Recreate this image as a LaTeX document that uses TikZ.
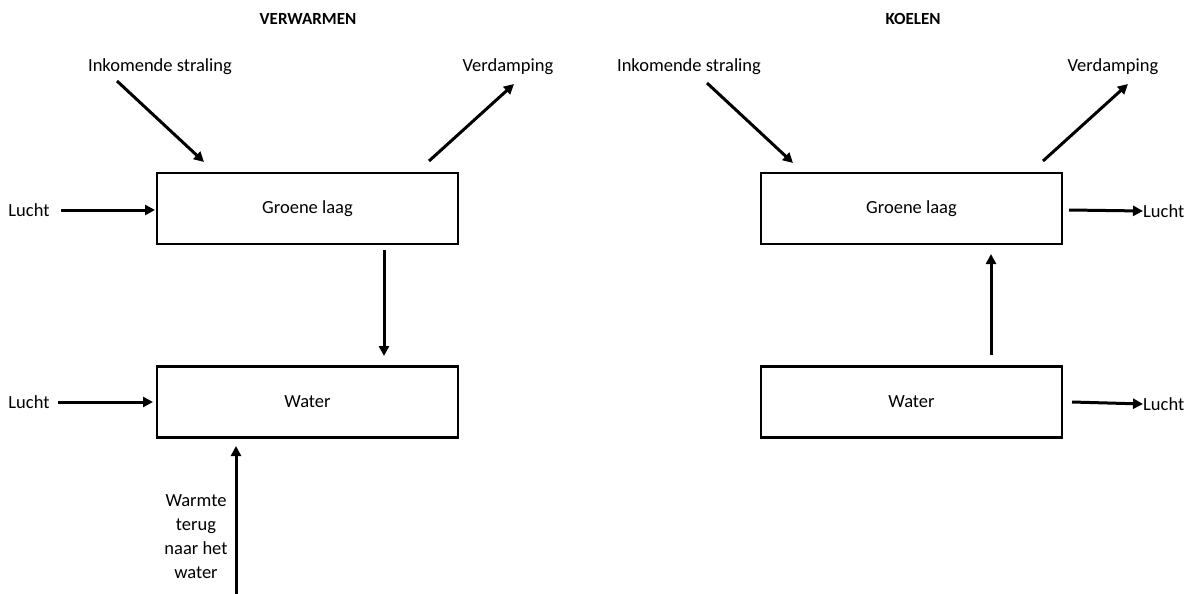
\documentclass[tikz,border=0pt]{standalone}
\usepackage{fontspec}
\setmainfont{Carlito}
\usetikzlibrary{arrows.meta}
\begin{document}
\begin{tikzpicture}[x=1pt,y=-1pt,
  box/.style={draw,line width=2.6pt,minimum width=301pt,minimum height=71pt,inner sep=0pt,font=\fontsize{18.5}{22}\selectfont},
  lbl/.style={inner sep=0pt,font=\fontsize{18.5}{22}\selectfont},
  ttl/.style={inner sep=0pt,font=\bfseries\fontsize{17}{20}\selectfont},
  flow/.style={line width=3pt,-{Triangle[length=10pt,width=10pt]}}]
\useasboundingbox (0,0) rectangle (1191,594);

% ---- VERWARMEN ----
\node[ttl] (t1) at (308,19) {VERWARMEN};
\node[box] (g1) at (307.5,208.5) {Groene laag};
\node[box] (w1) at (307.5,402) {Water};
\node[lbl] (in1) at (160,67) {Inkomende straling};
\node[lbl] (vd1) at (508,67) {Verdamping};
\node[lbl] (lg1) at (29,210) {Lucht};
\node[lbl] (lw1) at (29,402) {Lucht};
\node[lbl,align=center,font=\fontsize{18.5}{24}\selectfont] (wt1) at (196,537) {Warmte\\terug\\naar het\\water};

\coordinate (in1s) at (117,81);  \coordinate (in1e) at (204,162);
\coordinate (vd1s) at (429,161); \coordinate (vd1e) at (514,84);
\coordinate (lg1s) at (61,210);  \coordinate (lg1e) at (155,210);
\coordinate (lw1s) at (58,402);  \coordinate (lw1e) at (153,402);
\coordinate (gw1s) at (384,250); \coordinate (gw1e) at (384,356);
\coordinate (up1s) at (236,594); \coordinate (up1e) at (236,446);

\draw[flow] (in1s) -- (in1e);
\draw[flow] (vd1s) -- (vd1e);
\draw[flow] (lg1s) -- (lg1e);
\draw[flow] (lw1s) -- (lw1e);
\draw[flow] (gw1s) -- (gw1e);
\draw[flow] (up1s) -- (up1e);

% ---- KOELEN ----
\node[ttl] (t2) at (913,19) {KOELEN};
\node[box] (g2) at (911.5,208.5) {Groene laag};
\node[box] (w2) at (911.5,402) {Water};
\node[lbl] (in2) at (689,67) {Inkomende straling};
\node[lbl] (vd2) at (1113,67) {Verdamping};
\node[lbl,anchor=west] (lg2) at (1143,211) {Lucht};
\node[lbl,anchor=west] (lw2) at (1143,404) {Lucht};

\coordinate (in2s) at (707,83);   \coordinate (in2e) at (793,163);
\coordinate (vd2s) at (1043,161); \coordinate (vd2e) at (1128,84);
\coordinate (wg2s) at (991,355);  \coordinate (wg2e) at (991,254);
\coordinate (lg2s) at (1069,210); \coordinate (lw2s) at (1072,402);

\draw[flow] (in2s) -- (in2e);
\draw[flow] (vd2s) -- (vd2e);
\draw[flow] (wg2s) -- (wg2e);
\draw[flow] (lg2s) -- (lg2.west);
\draw[flow] (lw2s) -- (lw2.west);
\end{tikzpicture}
\end{document}
